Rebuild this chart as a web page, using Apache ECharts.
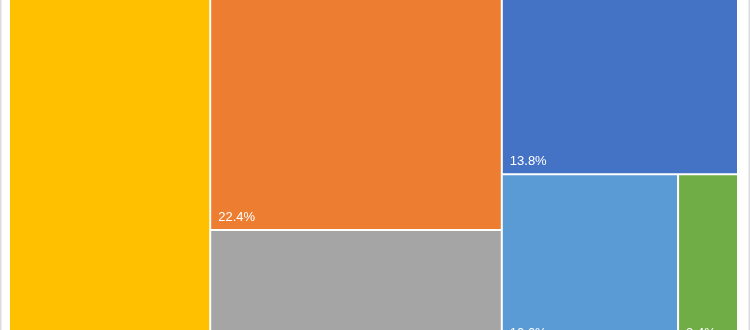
<!DOCTYPE html>
<html>
<head>
<meta charset="utf-8">
<script src="https://cdn.jsdelivr.net/npm/echarts@6/dist/echarts.min.js"></script>
<style>
html,body{margin:0;padding:0;background:#fff;}
#chart{width:750px;height:330px;}
</style>
</head>
<body>
<div id="chart"></div>
<script>
// Categories (names not visible in the picture) and their shares (%)
const categories = ['Category 1', 'Category 2', 'Category 3', 'Category 4', 'Category 5', 'Category 6', 'Category 7'];
const values = [13.8, 22.4, 17.6, 27.6, 10.0, 3.4, 5.2];
const colors = ['#4472C4', '#ED7D31', '#A5A5A5', '#FFC000', '#5B9BD5', '#70AD47', '#264478'];
// categories 5 and 6 sit side by side in one row
const pairedIdx = [4, 5];

const labelFmt = p => (typeof p.value === 'number' ? p.value.toFixed(1) + '%' : '');

function leaf(i) {
  return { name: categories[i], value: values[i], itemStyle: { color: colors[i] } };
}

const data = [];
categories.forEach((c, i) => {
  if (pairedIdx.includes(i)) {
    if (i === pairedIdx[0]) {
      data.push({
        name: 'group',
        itemStyle: { borderWidth: 0, gapWidth: 0 },
        children: pairedIdx.map(leaf)
      });
    }
  } else {
    data.push(leaf(i));
  }
});

const chart = echarts.init(document.getElementById('chart'), null, { renderer: 'canvas' });
chart.setOption({
  animation: false,
  tooltip: { show: false },
  graphic: [
    { type: 'rect', shape: { x: 0, y: 0, width: 1.5, height: 330 }, style: { fill: '#dcdcdc' }, silent: true },
    { type: 'rect', shape: { x: 748.5, y: 0, width: 1.5, height: 330 }, style: { fill: '#dcdcdc' }, silent: true }
  ],
  series: [{
    type: 'treemap',
    left: 9, top: -3, width: 729, height: 416,
    roam: false,
    nodeClick: false,
    squareRatio: 0.88,
    breadcrumb: { show: false },
    itemStyle: { borderWidth: 1, borderColor: '#fff', gapWidth: 0 },
    levels: [{ itemStyle: { borderWidth: 0, gapWidth: 0 } }],
    upperLabel: { show: false },
    label: {
      show: true,
      position: 'insideBottomLeft',
      distance: 5,
      padding: [0, 0, 0, 2],
      color: '#ffffff',
      fontFamily: 'Liberation Sans',
      fontSize: 13,
      formatter: labelFmt
    },
    emphasis: { disabled: true },
    data: data
  }]
});
</script>
</body>
</html>
